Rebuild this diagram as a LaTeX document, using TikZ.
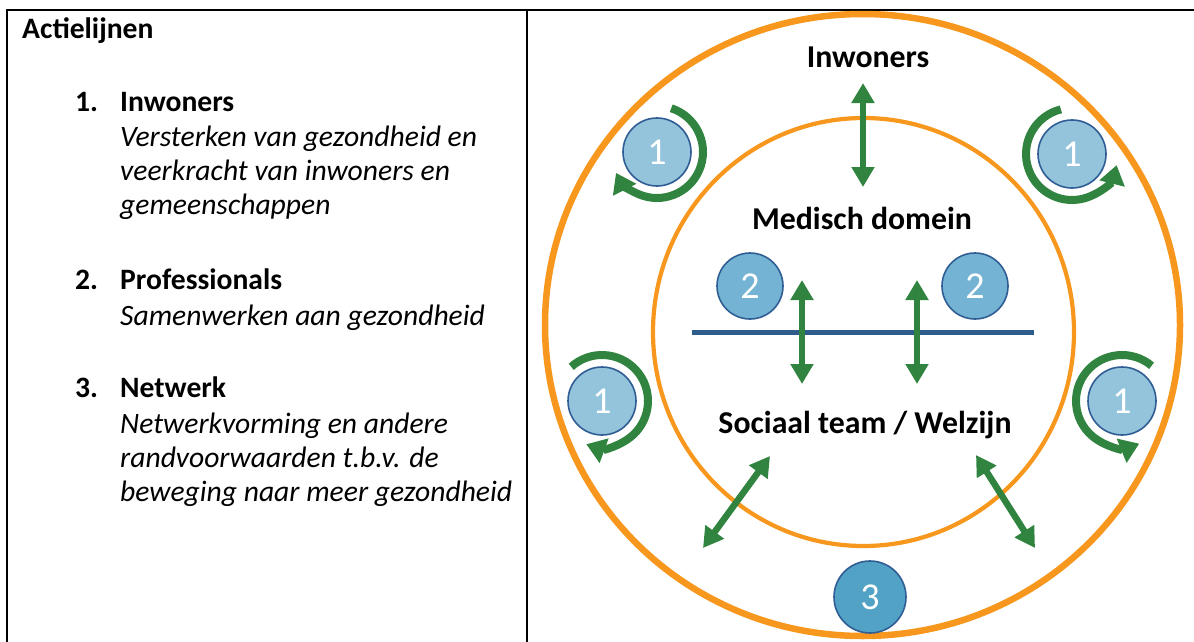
\documentclass[tikz,border=0pt]{standalone}
\usepackage{fontspec}
\setmainfont{Carlito}
\usetikzlibrary{arrows.meta}
\definecolor{orng}{HTML}{F8971D}
\definecolor{grn}{HTML}{31843F}
\definecolor{bline}{HTML}{2E5D8D}
\definecolor{cstroke}{HTML}{2F5D94}
\definecolor{cone}{HTML}{94C4DC}
\definecolor{ctwo}{HTML}{74B3D3}
\definecolor{cthree}{HTML}{52A2C6}
\begin{document}
\begin{tikzpicture}[x=1pt,y=-1pt,
  num/.style={circle, draw=cstroke, line width=1.6pt, inner sep=0pt, text=white, font=\fontsize{38}{40}\selectfont},
  dbl/.style={grn, line width=6.5pt, {Triangle[width=22pt,length=20pt]}-{Triangle[width=22pt,length=20pt]}},
  turn/.style={grn, line width=8pt, -{Triangle[width=25pt,length=19pt]}},
  lbl/.style={font=\bfseries\fontsize{31.8}{36}\selectfont, anchor=base, inner sep=0pt},
  head/.style={font=\bfseries\fontsize{29.6}{34}\selectfont, anchor=base west, inner sep=0pt},
  body/.style={font=\itshape\fontsize{29.6}{34}\selectfont, anchor=base west, inner sep=0pt},
  ring/.style={orng}
]
\useasboundingbox (0,0) rectangle (1194,642);
% table
\draw[line width=2.2pt] (7,642) -- (7,10) -- (1194,10);
\draw[line width=2.2pt] (527,10) -- (527,642);
% left column
\node[head] (t0) at (22,39) {Actielijnen};
\node[head] (n1) at (75,111) {1.};
\node[head] (h1) at (120,111) {Inwoners};
\node[body] (b1a) at (120,146) {Versterken van gezondheid en};
\node[body] (b1b) at (120,180) {veerkracht van inwoners en};
\node[body] (b1c) at (120,214) {gemeenschappen};
\node[head] (n2) at (75,289) {2.};
\node[head] (h2) at (120,289) {Professionals};
\node[body] (b2a) at (120,325) {Samenwerken aan gezondheid};
\node[head] (n3) at (75,397) {3.};
\node[head] (h3) at (120,397) {Netwerk};
\node[body] (b3a) at (120,433) {Netwerkvorming en andere};
\node[body] (b3b) at (120,467) {randvoorwaarden t.b.v. de};
\node[body] (b3c) at (120,501) {beweging naar meer gezondheid};
% rings
\draw[ring, line width=6.5pt] (862.5,325) ellipse [x radius=317.5, y radius=311];
\draw[ring, line width=4.2pt] (863.5,332) ellipse [x radius=210.5, y radius=214];
% labels
\node[lbl] (inw) at (868,67) {Inwoners};
\node[lbl] (med) at (862,229) {Medisch domein};
\node[lbl] (soc) at (865,433) {Sociaal team / Welzijn};
% blue line
\coordinate (bl1) at (692,332);
\coordinate (bl2) at (1034,332);
\draw[bline, line width=5pt] (bl1) -- (bl2);
% arrows
\coordinate (a1) at (863,83);  \coordinate (a2) at (863,187);
\coordinate (v1) at (802,280); \coordinate (v2) at (802,384);
\coordinate (w1) at (917,280); \coordinate (w2) at (917,384);
\coordinate (d1) at (770,456); \coordinate (d2) at (703,548);
\coordinate (e1) at (976,455); \coordinate (e2) at (1035,548);
\draw[dbl] (a1) -- (a2);
\draw[dbl] (v1) -- (v2);
\draw[dbl] (w1) -- (w2);
\draw[dbl] (d1) -- (d2);
\draw[dbl] (e1) -- (e2);
% circles
\node[num, fill=cone, minimum size=68pt] (c1a) at (657,152) {1};
\node[num, fill=cone, minimum size=68pt] (c1b) at (1072,154) {1};
\node[num, fill=cone, minimum size=68pt] (c1c) at (602,401) {1};
\node[num, fill=cone, minimum size=68pt] (c1d) at (1122,401) {1};
\node[num, fill=ctwo, minimum size=66pt] (c2a) at (750,286) {2};
\node[num, fill=ctwo, minimum size=66pt] (c2b) at (975,286) {2};
\node[num, fill=cthree, minimum size=72pt] (c3) at (870,597) {3};
% turning arrows
\draw[turn] (c1a.center) ++(-72:46) arc[start angle=-72, end angle=153, radius=46];
\draw[turn] (c1b.center) ++(-104:46) arc[start angle=-104, end angle=-346, radius=46];
\draw[turn] (c1c.center) ++(-132:46) arc[start angle=-132, end angle=110, radius=46];
\draw[turn] (c1d.center) ++(-50:46) arc[start angle=-50, end angle=-292, radius=46];
\end{tikzpicture}
\end{document}
